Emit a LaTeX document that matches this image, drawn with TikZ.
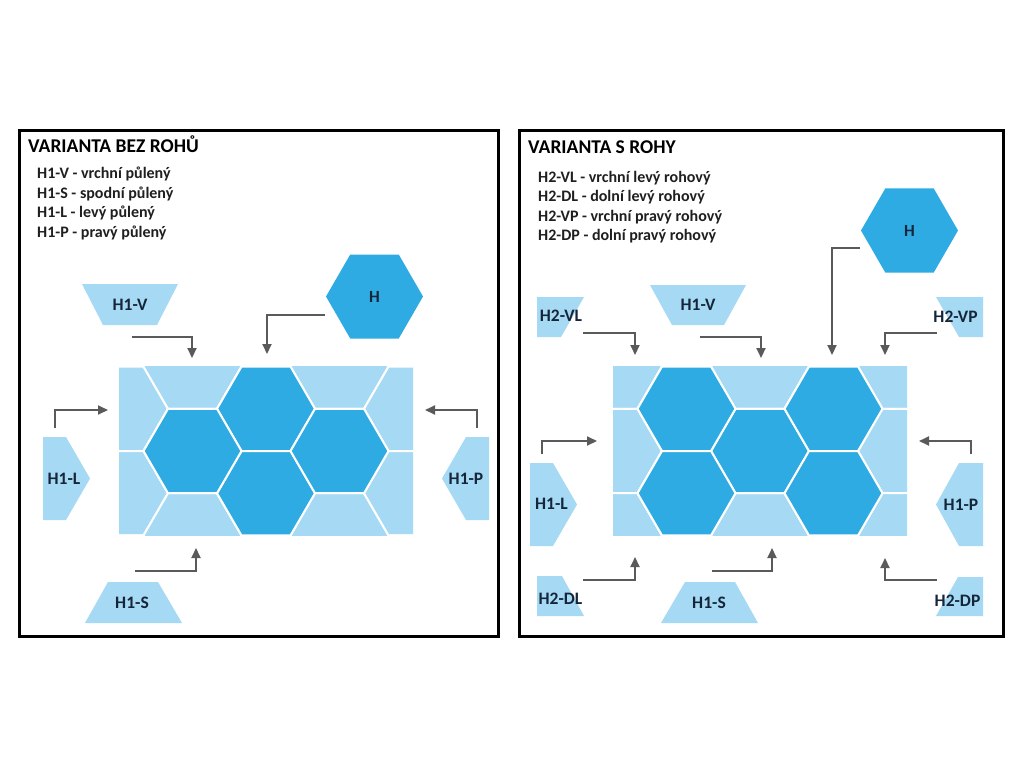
\documentclass[tikz,border=0pt]{standalone}
\usepackage{fontspec}
\setmainfont{Carlito}
\usetikzlibrary{arrows.meta,shapes.geometric}
\definecolor{hexdark}{HTML}{2EABE2}
\definecolor{hexlight}{HTML}{A6D9F3}
\definecolor{arrgray}{HTML}{5A5A5A}
\definecolor{labtxt}{HTML}{15263A}
\newcommand\hexpath[2]{(#1+49,#2) -- (#1+24.5,#2+42.2) -- (#1-24.5,#2+42.2) -- (#1-49,#2) -- (#1-24.5,#2-42.2) -- (#1+24.5,#2-42.2) -- cycle}
\begin{document}
\begin{tikzpicture}[x=1pt,y=-1pt,
  frame/.style={draw=black,line width=3pt},
  piece/.style={fill=hexlight,draw=none},
  cell/.style={fill=hexlight,draw=white,line width=2pt},
  darkcell/.style={fill=hexdark,draw=white,line width=2pt},
  lab/.style={text=labtxt,font=\fontsize{17.5}{20}\selectfont\bfseries,inner sep=0pt},
  ttl/.style={anchor=base west,font=\fontsize{19.5}{22}\selectfont\bfseries,inner sep=0pt,text=black},
  item/.style={anchor=base west,font=\fontsize{16}{19}\selectfont\bfseries,text=black!88,inner sep=0pt},
  arr/.style={draw=arrgray,line width=2pt,-{Triangle[length=10pt,width=9pt]}},
  bighex/.style={regular polygon,regular polygon sides=6,minimum size=97pt,fill=hexdark,inner sep=0pt,text=labtxt,font=\fontsize{17}{20}\selectfont\bfseries}
]
\useasboundingbox (0,0) rectangle (1024,768);
\fill[white] (0,0) rectangle (1024,768);

% ---------------- frames ----------------
\draw[frame] (19,130) rectangle (498,636);
\draw[frame] (519,130) rectangle (1003,636);

% ---------------- LEFT PANEL ----------------
\node[ttl] (t1) at (28,152) {VARIANTA BEZ ROHŮ};
\node[item] (l1a) at (37,178.5) {H1-V - vrchní půlený};
\node[item] (l1b) at (37,198) {H1-S - spodní půlený};
\node[item] (l1c) at (37,217.5) {H1-L - levý půlený};
\node[item] (l1d) at (37,237) {H1-P - pravý půlený};

% tiling
\begin{scope}
  \clip (119,366.6) rectangle (413,535.4);
  \fill[hexlight] (119,366.6) rectangle (413,535.4);
  \foreach \i in {-3,...,3}{
    \foreach \j in {-3,...,3}{
      \pgfmathsetmacro\hx{266+73.5*\i}
      \pgfmathsetmacro\hy{451+42.2*(2*\j+1-mod(\i+4,2))}
      \draw[cell] \hexpath{\hx}{\hy};
    }}
  \path[darkcell] \hexpath{266}{408.8};
  \path[darkcell] \hexpath{266}{493.2};
  \path[darkcell] \hexpath{192.5}{451};
  \path[darkcell] \hexpath{339.5}{451};
\end{scope}

% pieces
\fill[piece] (82,284) -- (178,284) -- (157,325) -- (103,325) -- cycle;
\node[lab] (h1vL) at (130,305) {H1-V};
\fill[piece] (108,582) -- (158,582) -- (182,623) -- (85,623) -- cycle;
\node[lab] (h1sL) at (132,603) {H1-S};
\fill[piece] (43,437) -- (66,437) -- (90,478.5) -- (66,520) -- (43,520) -- cycle;
\node[lab] (h1lL) at (64,479) {H1-L};
\fill[piece] (489,437) -- (466,437) -- (442,478.5) -- (466,520) -- (489,520) -- cycle;
\node[lab] (h1pL) at (466,479) {H1-P};
\node[bighex] (hL) at (374.5,296.5) {H};

% arrows
\coordinate (a1s) at (132,337); \coordinate (a1e) at (192,358);
\draw[arr] (a1s) -| (a1e);
\coordinate (a2s) at (325,315); \coordinate (a2e) at (267,354);
\draw[arr] (a2s) -| (a2e);
\coordinate (a3s) at (55,428); \coordinate (a3e) at (108,410);
\draw[arr] (a3s) |- (a3e);
\coordinate (a4s) at (135,571); \coordinate (a4e) at (196,548);
\draw[arr] (a4s) -| (a4e);
\coordinate (a5s) at (477,428); \coordinate (a5e) at (425,410);
\draw[arr] (a5s) |- (a5e);

% ---------------- RIGHT PANEL ----------------
\node[ttl] (t2) at (528,153) {VARIANTA S ROHY};
\node[item] (l2a) at (538,182) {H2-VL - vrchní levý rohový};
\node[item] (l2b) at (538,201.5) {H2-DL - dolní levý rohový};
\node[item] (l2c) at (538,221) {H2-VP - vrchní pravý rohový};
\node[item] (l2d) at (538,240.5) {H2-DP - dolní pravý rohový};

\begin{scope}
  \clip (613,366.6) rectangle (907,535.4);
  \fill[hexlight] (613,366.6) rectangle (907,535.4);
  \foreach \i in {-3,...,3}{
    \foreach \j in {-3,...,3}{
      \pgfmathsetmacro\hx{760+73.5*\i}
      \pgfmathsetmacro\hy{451+42.2*(2*\j+mod(\i+4,2))}
      \draw[cell] \hexpath{\hx}{\hy};
    }}
  \path[darkcell] \hexpath{760}{451};
  \path[darkcell] \hexpath{686.5}{408.8};
  \path[darkcell] \hexpath{686.5}{493.2};
  \path[darkcell] \hexpath{833.5}{408.8};
  \path[darkcell] \hexpath{833.5}{493.2};
\end{scope}

% pieces
\fill[piece] (537,297) -- (584,297) -- (561,337) -- (537,337) -- cycle;
\node[lab] (h2vl) at (561,316) {H2-VL};
\fill[piece] (650,285) -- (746,285) -- (724,325) -- (672,325) -- cycle;
\node[lab] (h1vR) at (698,305) {H1-V};
\fill[piece] (936,297) -- (983,297) -- (983,337) -- (959,337) -- cycle;
\node[lab] (h2vp) at (955.5,317) {H2-VP};
\node[bighex] (hR) at (909.5,230.5) {H};
\fill[piece] (530,463) -- (553,463) -- (577,504.5) -- (553,546) -- (530,546) -- cycle;
\node[lab] (h1lR) at (551.5,504) {H1-L};
\fill[piece] (983,463) -- (959,463) -- (936,504.5) -- (959,546) -- (983,546) -- cycle;
\node[lab] (h1pR) at (961,505) {H1-P};
\fill[piece] (537,576) -- (562,576) -- (584,616) -- (537,616) -- cycle;
\node[lab] (h2dl) at (560.5,599) {H2-DL};
\fill[piece] (685,582) -- (735,582) -- (758,623) -- (661,623) -- cycle;
\node[lab] (h1sR) at (709,603) {H1-S};
\fill[piece] (958,577) -- (983,577) -- (983,616) -- (936,616) -- cycle;
\node[lab] (h2dp) at (957.5,601) {H2-DP};

% arrows
\coordinate (b1s) at (583,333); \coordinate (b1e) at (635,355);
\draw[arr] (b1s) -| (b1e);
\coordinate (b2s) at (700,337); \coordinate (b2e) at (761,358);
\draw[arr] (b2s) -| (b2e);
\coordinate (b3s) at (860,248); \coordinate (b3e) at (832,355);
\draw[arr] (b3s) -| (b3e);
\coordinate (b4s) at (937,333); \coordinate (b4e) at (885,355);
\draw[arr] (b4s) -| (b4e);
\coordinate (b5s) at (542,454); \coordinate (b5e) at (597,441);
\draw[arr] (b5s) |- (b5e);
\coordinate (b6s) at (971,454); \coordinate (b6e) at (919,441);
\draw[arr] (b6s) |- (b6e);
\coordinate (b7s) at (583,580); \coordinate (b7e) at (635,557);
\draw[arr] (b7s) -| (b7e);
\coordinate (b8s) at (712,571); \coordinate (b8e) at (772,548);
\draw[arr] (b8s) -| (b8e);
\coordinate (b9s) at (937,580); \coordinate (b9e) at (885,558);
\draw[arr] (b9s) -| (b9e);
\end{tikzpicture}
\end{document}
